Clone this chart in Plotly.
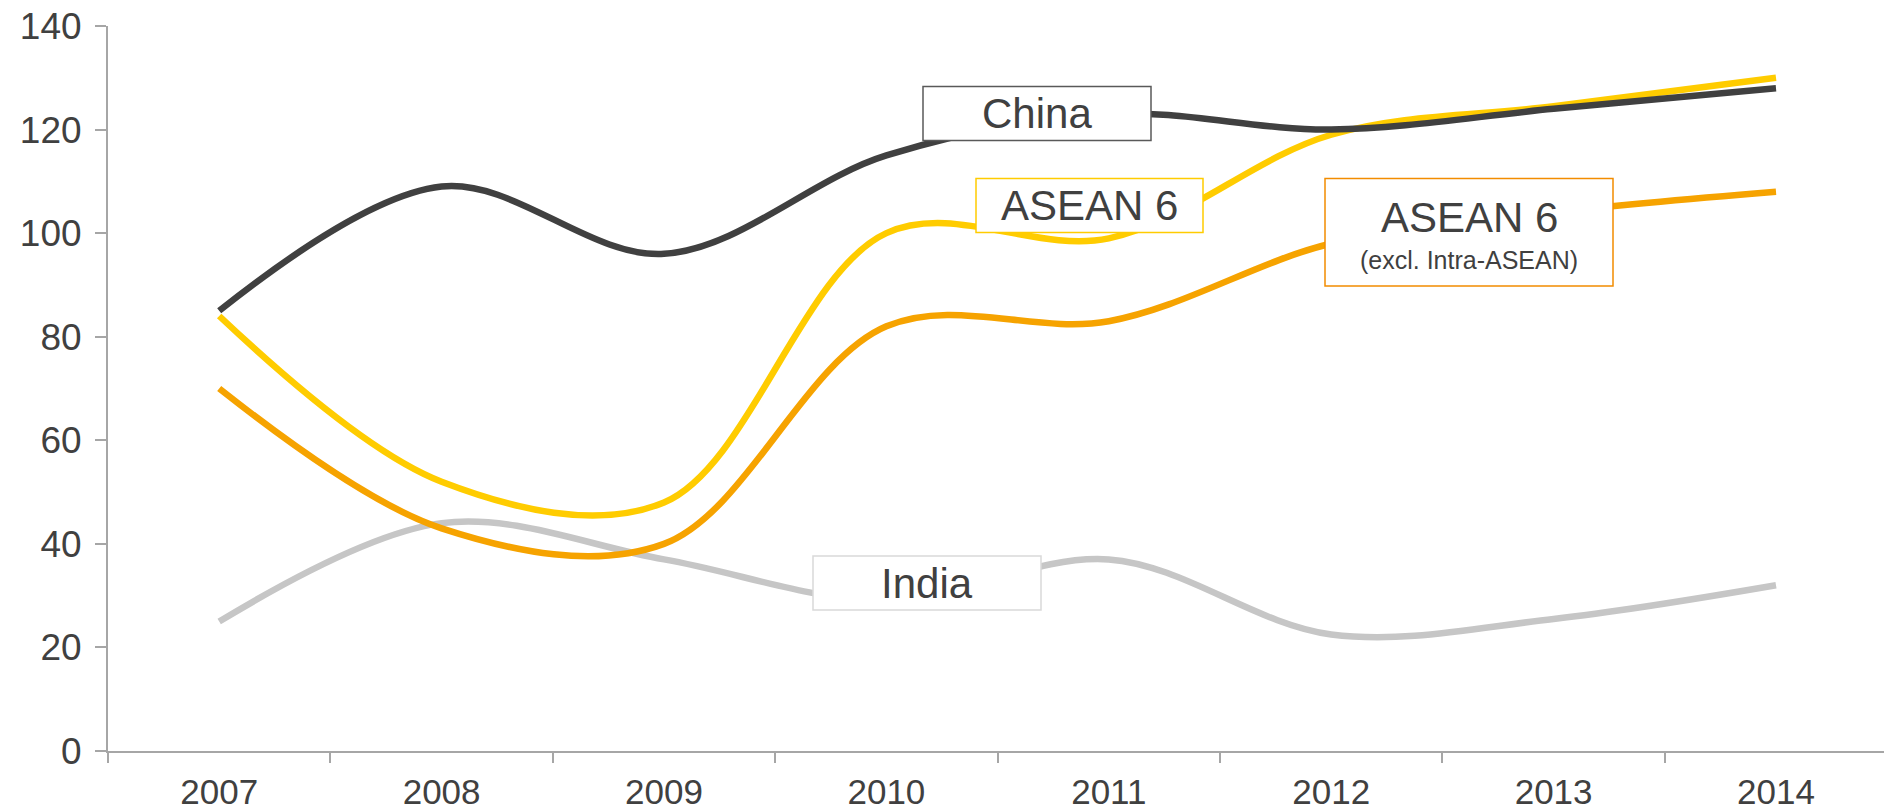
import plotly.graph_objects as go

years = ["2007", "2008", "2009", "2010", "2011", "2012", "2013", "2014"]
china = [85, 109, 96, 115, 123, 120, 124, 128]
asean6 = [84, 52, 48, 100, 99, 119, 124.5, 130]
asean6_excl = [70, 43, 40, 82, 83, 98, 104, 108]
india = [25, 44, 37, 29, 37, 22.5, 25.5, 32]

W, H = 1884, 811
L, R, T, B = 108, 0, 26, 60
FONT = "Arial, Liberation Sans, sans-serif"
TXT = "#404040"

fig = go.Figure()
series = [
    ("India", india, "#C6C6C6"),
    ("ASEAN 6 (excl. Intra-ASEAN)", asean6_excl, "#F6A300"),
    ("ASEAN 6", asean6, "#FFCC00"),
    ("China", china, "#404040"),
]
for name, vals, col in series:
    fig.add_trace(go.Scatter(
        x=years, y=vals, mode="lines", name=name,
        line=dict(color=col, width=6.5, shape="spline", smoothing=1),
        showlegend=False, hoverinfo="x+y+name",
    ))


def px_x(px):
    return (px - L) / (W - L - R)


def px_y(py):
    return (H - B - py) / (H - T - B)


boxes = [
    # x0, x1, y0, y1 (pixels), border colour
    (923, 1151, 86.5, 140.5, "#595959"),
    (976, 1203, 178.5, 232.5, "#FFCC00"),
    (1325, 1613, 178.5, 286, "#F28C00"),
    (813, 1041, 556, 610, "#D9D9D9"),
]
for x0, x1, y0, y1, bc in boxes:
    fig.add_shape(type="rect", xref="paper", yref="paper",
                  x0=px_x(x0), x1=px_x(x1), y0=px_y(y1), y1=px_y(y0),
                  line=dict(color=bc, width=1.5), fillcolor="white", layer="above")

labels = [
    ("China", 1037, 113.5, 42),
    ("ASEAN 6", 1089.5, 205.5, 42),
    ("ASEAN 6", 1469, 217, 42),
    ("(excl. Intra-ASEAN)", 1469, 260, 25),
    ("India", 927, 583, 42),
]
for txt, cx, cy, fs in labels:
    fig.add_annotation(text=txt, xref="paper", yref="paper",
                       x=px_x(cx), y=px_y(cy), xanchor="center", yanchor="middle",
                       showarrow=False, font=dict(family=FONT, size=fs, color=TXT))

axis_col = "#A6A6A6"
fig.update_layout(
    width=W, height=H,
    margin=dict(l=L, r=R, t=T, b=B, pad=0, autoexpand=False),
    paper_bgcolor="white", plot_bgcolor="white",
    font=dict(family=FONT, color=TXT),
    xaxis=dict(type="category", range=[-0.5, -0.5 + (W - L - R) / 222.4],
               tickson="boundaries", ticks="outside", ticklen=10, tickwidth=2,
               tickcolor=axis_col, showline=True, linecolor=axis_col, linewidth=2,
               showgrid=False, zeroline=False, ticklabelstandoff=9, automargin=False,
               tickfont=dict(family=FONT, size=35, color=TXT)),
    yaxis=dict(range=[0, 140], dtick=20, tick0=0, ticks="outside", ticklen=11,
               tickwidth=2, tickcolor=axis_col, showline=True, linecolor=axis_col,
               linewidth=2, showgrid=False, zeroline=False, ticklabelstandoff=6,
               automargin=False,
               tickfont=dict(family=FONT, size=37, color=TXT)),
)

fig.write_html("out.html")
